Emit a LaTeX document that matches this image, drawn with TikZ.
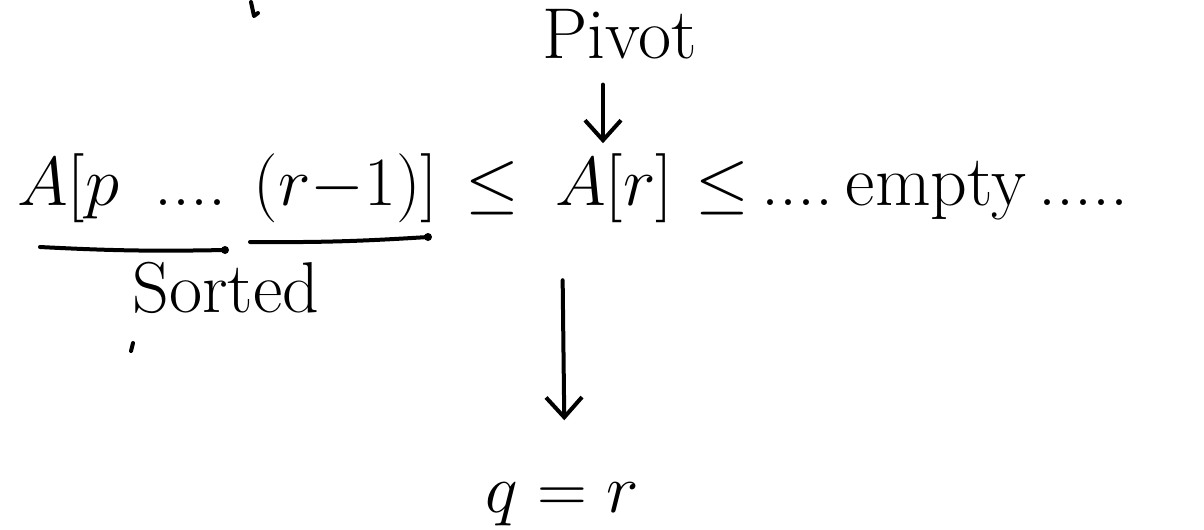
\documentclass[tikz,border=0pt]{standalone}
\usetikzlibrary{arrows.meta}
\tikzset{
  hand/.style={inner sep=0pt,font=\fontsize{18}{22}\selectfont},
  small/.style={inner sep=0pt,font=\fontsize{18}{22}\selectfont},
  barb/.style={-{Straight Barb[length=5pt,width=9pt,line width=1pt]}}
}
\begin{document}
\begin{tikzpicture}[x=.25pt,y=-.25pt,line width=1pt,line cap=round,line join=round]
  \useasboundingbox (0,0) rectangle (1204,529);
  \node[small,anchor=base] (pivot) at (620,58) {Pivot};
  \node[hand,anchor=base] (alo) at (68,205) {$A[p$};
  \node[hand,anchor=base] (ldots) at (190,205) {....};
  \node[hand,anchor=base] (rmo) at (346,205) {$(r{-}1)]$};
  \node[hand,anchor=base] (le1) at (492,205) {$\leq$};
  \node[hand,anchor=base] (ar) at (614,205) {$A[r]$};
  \node[hand,anchor=base] (le2) at (722,205) {$\leq$};
  \node[hand,anchor=base west] (empty) at (760,205) {....\,empty\,.....};
  \node[small,anchor=base] (sorted) at (226,312) {Sorted};
  \node[hand,anchor=base] (qr) at (562,512) {$q=r$};
  \coordinate (u1) at (40,247);
  \coordinate (u2) at (225,250);
  \coordinate (u3) at (250,242);
  \coordinate (u4) at (428,237);
  \coordinate (p1) at (pivot.south -| 603,0);
  \coordinate (p2) at (ar.north -| 603,0);
  \coordinate (d1) at (ar.south -| 562,0);
  \coordinate (d2) at (qr.north -| 565,0);
  \draw (u1) to[bend right=2] (u2);
  \draw (u3) to[bend right=2] (u4);
  \fill (u2) circle[radius=4];
  \fill (u4) circle[radius=4];
  \draw[barb,shorten <=6pt,shorten >=2pt] (p1) -- (p2);
  \draw[barb,shorten <=14pt,shorten >=15pt] (d1) -- (d2);
  \draw (251,2) -- (254,16) -- (258,13);
  \draw (131,351) -- (133,343);
\end{tikzpicture}
\end{document}
